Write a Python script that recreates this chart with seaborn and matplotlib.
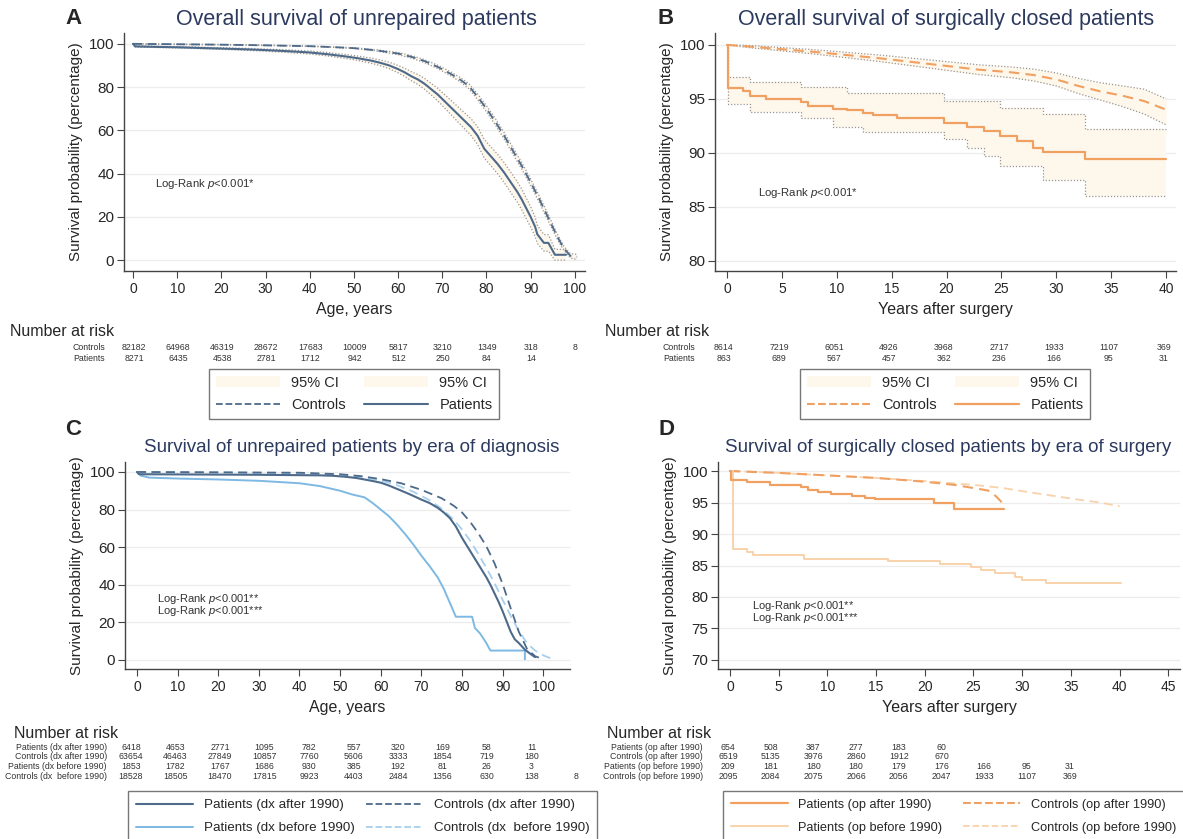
import numpy as np
import pandas as pd
import matplotlib
matplotlib.use("Agg")
import matplotlib.pyplot as plt
import seaborn as sns
from matplotlib.lines import Line2D
from matplotlib.patches import Patch

# ---------------- data ----------------
# Panel A: unrepaired patients vs controls (age)
a_pat_x = [0, 0.5, 5, 10, 15, 20, 25, 30, 35, 40, 44, 48, 51, 54, 56, 58, 60, 61.5, 63, 64.5, 66, 67.5, 69, 70.5,
           72, 73.5, 75, 76.5, 78, 79.5, 81, 82.5, 84, 85.5, 87, 88, 89, 90, 91, 91.5, 93, 94, 95.5, 98]
a_pat_y = [100, 98.8, 98.6, 98.4, 98.1, 97.8, 97.5, 97.1, 96.6, 96.0, 95.2, 94.2, 93.3, 92.2, 91.2, 90.0, 88.3, 86.8,
           85.0, 83.5, 81.5, 79.0, 76.5, 73.5, 70.5, 67.5, 64.5, 61.5, 57.5, 51.5, 48.0, 44.5, 40.5, 36.0, 31.5, 28.0,
           24.0, 20.0, 15.5, 12.0, 8.0, 8.0, 2.5, 2.5]
a_pat_hi = [100, 99.1, 98.9, 98.7, 98.45, 98.2, 97.95, 97.6, 97.2, 96.7, 96.0, 95.1, 94.3, 93.4, 92.5, 91.5, 90.0, 88.7,
            87.1, 85.8, 84.0, 81.7, 79.4, 76.6, 73.8, 71.0, 68.2, 65.4, 61.6, 55.8, 52.4, 49.0, 45.1, 40.7, 36.3, 32.8,
            28.8, 24.7, 20.0, 16.2, 11.8, 11.8, 5.0, 5.0]
a_pat_lo = [100, 98.5, 98.3, 98.1, 97.75, 97.4, 97.05, 96.6, 96.0, 95.3, 94.4, 93.3, 92.3, 91.0, 89.9, 88.5, 86.6, 84.9,
            82.9, 81.2, 79.0, 76.3, 73.6, 70.4, 67.2, 64.0, 60.8, 57.6, 53.4, 47.2, 43.6, 40.0, 35.9, 31.3, 26.7, 23.2,
            19.2, 15.3, 11.0, 7.8, 4.2, 4.2, 0.0, 0.0]
a_ctl_x = [0, 10, 20, 30, 40, 45, 50, 55, 60, 63, 66, 69, 72, 74, 76, 78, 80, 82, 84, 86, 88, 90, 92, 94, 96, 97.5, 99, 100.5]
a_ctl_y = [100, 99.8, 99.6, 99.3, 98.9, 98.5, 98.0, 97.0, 95.5, 94.0, 92.0, 89.3, 86.0, 83.5, 80.5, 75.5, 70.0, 64.0,
           57.5, 50.5, 43.5, 36.0, 28.0, 19.5, 11.0, 5.5, 2.0, 1.5]
a_ctl_lo = [100, 99.7, 99.5, 99.2, 98.8, 98.4, 97.8, 96.7, 95.0, 93.4, 91.3, 88.5, 85.1, 82.5, 79.3, 74.2, 68.6, 62.5,
            56.0, 49.0, 42.0, 34.5, 26.5, 18.0, 9.8, 4.5, 1.0, 0.3]
a_ctl_hi = [100, 99.9, 99.7, 99.4, 99.0, 98.6, 98.2, 97.3, 96.0, 94.6, 92.7, 90.1, 86.9, 84.5, 81.7, 76.8, 71.4, 65.5,
            59.0, 52.0, 45.0, 37.5, 29.5, 21.0, 12.2, 6.5, 3.0, 2.7]
a_risk_ctl = [82182, 64968, 46319, 28672, 17683, 10009, 5817, 3210, 1349, 318, 8]
a_risk_pat = [8271, 6435, 4538, 2781, 1712, 942, 512, 250, 84, 14]

# Panel B: surgically closed patients vs controls (years after surgery)
b_pat_x = [0, 0.1, 1.5, 2.1, 3.6, 6.7, 7.4, 9.7, 10.9, 12.4, 13.3, 15.5, 19.8, 21.9, 23.4, 24.9, 26.4, 27.9, 28.8, 32.6, 40]
b_pat_y = [100, 96.0, 95.7, 95.3, 95.0, 94.7, 94.3, 94.1, 94.0, 93.7, 93.5, 93.2, 92.8, 92.4, 92.0, 91.6, 91.1, 90.5,
           90.1, 89.4, 89.4]
b_pat_hi = [100, 97.0, 97.0, 96.6, 96.6, 96.1, 96.1, 96.1, 95.5, 95.5, 95.5, 95.5, 94.8, 94.8, 94.8, 94.2, 94.2, 94.2,
            93.6, 92.2, 92.2]
b_pat_lo = [100, 94.5, 94.5, 93.8, 93.8, 93.2, 93.2, 92.4, 92.4, 91.9, 91.9, 91.9, 91.3, 90.5, 89.7, 88.8, 88.8, 88.8,
            87.5, 86.0, 86.0]
b_ctl_x = [0, 2, 5, 8, 11, 14, 17, 20, 23, 26, 28, 30, 32, 34, 36, 38, 40]
b_ctl_y = [100, 99.85, 99.6, 99.35, 99.05, 98.75, 98.4, 98.05, 97.7, 97.45, 97.2, 96.8, 96.2, 95.7, 95.3, 94.8, 94.0]
b_ctl_lo = [100, 99.75, 99.45, 99.15, 98.8, 98.45, 98.05, 97.65, 97.25, 96.95, 96.65, 96.2, 95.5, 94.9, 94.3, 93.6, 92.6]
b_ctl_hi = [100, 99.95, 99.75, 99.55, 99.3, 99.05, 98.75, 98.45, 98.15, 97.95, 97.75, 97.4, 96.9, 96.5, 96.2, 95.9, 95.0]
b_risk_ctl = [8614, 7219, 6051, 4926, 3968, 2717, 1933, 1107, 369]
b_risk_pat = [863, 689, 567, 457, 362, 236, 166, 95, 31]

# Panel C: unrepaired by era of diagnosis
c_pa_x = [0, 0.5, 10, 20, 30, 40, 45, 48, 51, 54, 56, 58, 60, 62, 64, 66, 68, 70, 72, 74, 75.5, 77, 78.5, 80, 81, 82,
          83, 84, 85, 86, 87, 88, 89, 90, 91, 92, 93, 94, 95.5, 97, 98]
c_pa_y = [100, 98.8, 98.7, 98.6, 98.5, 98.3, 98.2, 98.0, 97.5, 96.8, 96.0, 95.2, 94.3, 92.8, 91.0, 89.2, 87.3, 85.3,
          83.5, 81.0, 78.5, 75.5, 71.0, 65.0, 61.5, 58.0, 54.5, 51.0, 47.5, 44.0, 40.0, 35.5, 31.0, 26.0, 20.5, 15.0,
          11.0, 9.0, 5.5, 3.0, 1.5]
c_ca_x = [0, 40, 50, 55, 60, 65, 70, 75, 78, 80, 82, 84, 86, 88, 90, 92, 94, 96, 98, 99.5]
c_ca_y = [100, 99.6, 98.8, 97.8, 96.2, 94.0, 90.5, 86.0, 82.0, 78.5, 73.5, 67.5, 60.5, 51.5, 40.5, 27.5, 15.0, 6.0, 2.0, 0.8]
c_pb_x = [0, 1, 3, 10, 20, 30, 40, 45, 50, 53, 56, 58, 60, 62, 64, 66, 68, 70, 72, 74, 75.5, 77, 78.5, 82.5, 83.2,
          84.5, 86, 87, 95.5, 95.5]
c_pb_y = [100, 98.0, 97.0, 96.5, 96.0, 95.3, 94.0, 92.5, 90.0, 88.0, 86.5, 83.5, 80.0, 76.5, 72.0, 67.0, 61.5, 55.5,
          50.0, 44.0, 38.0, 30.5, 23.0, 23.0, 17.0, 14.0, 9.0, 5.0, 5.0, 0.3]
c_cb_x = [0, 20, 40, 50, 55, 60, 64, 68, 72, 75, 78, 80, 82, 84, 86, 88, 90, 92, 94, 96, 98, 100, 102.5]
c_cb_y = [100, 99.8, 99.3, 98.5, 97.5, 95.5, 93.0, 89.5, 85.0, 80.5, 74.5, 69.5, 63.5, 56.5, 49.0, 41.0, 32.0, 23.5,
          15.5, 9.0, 5.0, 2.5, 0.3]
c_risk_pa = [6418, 4653, 2771, 1095, 782, 557, 320, 169, 58, 11]
c_risk_ca = [63654, 46463, 27849, 10857, 7760, 5606, 3333, 1854, 719, 180]
c_risk_pb = [1853, 1782, 1767, 1686, 930, 385, 192, 81, 26, 3]
c_risk_cb = [18528, 18505, 18470, 17815, 9923, 4403, 2484, 1356, 630, 138, 8]

# Panel D: surgically closed by era of surgery
d_pa_x = [0, 0.1, 1.7, 4.1, 7.3, 8.0, 9.0, 10.4, 12.5, 13.9, 14.9, 20.9, 23.0, 28.1]
d_pa_y = [100, 98.6, 98.2, 97.8, 97.4, 97.0, 96.6, 96.3, 96.0, 95.7, 95.5, 94.9, 94.0, 94.0]
d_ca_x = [0, 5, 10, 15, 20, 23, 25, 26.5, 27.3, 27.8, 28.1]
d_ca_y = [100, 99.7, 99.3, 98.9, 98.3, 97.8, 97.3, 96.9, 96.0, 95.2, 94.7]
d_pb_x = [0, 0.3, 1.7, 2.4, 7.6, 16.2, 21.6, 24.7, 25.8, 27.2, 29.3, 30.0, 32.4, 40.1]
d_pb_y = [100, 87.6, 87.2, 86.6, 86.1, 85.65, 85.2, 84.7, 84.3, 83.8, 83.2, 82.7, 82.2, 82.2]
d_cb_x = [0, 5, 10, 15, 20, 25, 28, 30, 33, 36, 38, 40]
d_cb_y = [100, 99.7, 99.3, 98.9, 98.4, 97.8, 97.3, 96.8, 96.1, 95.4, 95.0, 94.4]
d_risk_pa = [654, 508, 387, 277, 183, 60]
d_risk_ca = [6519, 5135, 3976, 2860, 1912, 670]
d_risk_pb = [209, 181, 180, 180, 179, 176, 166, 95, 31]
d_risk_cb = [2095, 2084, 2075, 2066, 2056, 2047, 1933, 1107, 369]

# ---------------- style ----------------
sns.set_style("ticks")
plt.rcParams['font.family'] = ['Liberation Sans', 'DejaVu Sans']
plt.rcParams['mathtext.fontset'] = 'custom'
plt.rcParams['mathtext.rm'] = 'Liberation Sans'
plt.rcParams['mathtext.it'] = 'Liberation Sans:italic'

NAVY = "#4d6a8b"
LBLUE = "#7db9e2"
LBLUE2 = "#a6d0ec"
ORANGE = "#f0a061"
LORANGE = "#f8d2aa"
CIFILL = "#fef7ec"
CIGREY = "#9a948e"
TITLE = "#2c3a5f"
DASH = (0, (5, 3))

W, H = 1183, 839
fig = plt.figure(figsize=(W / 100, H / 100), dpi=100)


def rect(l, t, r, b):
    return [l / W, 1 - b / H, (r - l) / W, (b - t) / H]


def km(ax, x, y, color, ls='-', lw=1.4, steps=True):
    df = pd.DataFrame({'x': x, 'y': y})
    sns.lineplot(data=df, x='x', y='y', ax=ax, color=color, linestyle=ls, linewidth=lw,
                 estimator=None, sort=False, errorbar=None,
                 drawstyle='steps-post' if steps else 'default')


def band(ax, x, lo, hi, steps=True):
    ax.fill_between(x, lo, hi, step='post' if steps else None, color=CIFILL, lw=0, zorder=1)
    km(ax, x, lo, CIGREY, ls=(0, (1, 1.5)), lw=0.9, steps=steps)
    km(ax, x, hi, CIGREY, ls=(0, (1, 1.5)), lw=0.9, steps=steps)


def setup(ax, xlim, ylim, xticks, yticks, xlabel):
    ax.set_xlim(xlim)
    ax.set_ylim(ylim)
    ax.set_xticks(xticks)
    ax.set_yticks(yticks)
    ax.yaxis.grid(True, color='#ececec', lw=0.9)
    ax.xaxis.grid(False)
    ax.set_axisbelow(True)
    sns.despine(ax=ax)
    for s in ['left', 'bottom']:
        ax.spines[s].set_color('#444444')
        ax.spines[s].set_linewidth(1.0)
    ax.tick_params(axis='x', labelsize=10, length=5, color='#444444', pad=3)
    ax.tick_params(axis='y', labelsize=11, length=5, color='#444444', pad=2)
    ax.set_xlabel(xlabel, fontsize=11.5, labelpad=4)
    ax.set_ylabel('Survival probability (percentage)', fontsize=11, labelpad=4)


def fig_text(x, y, s, **kw):
    fig.text(x / W, 1 - y / H, s, **kw)


def risk_table(head_xy, label_right, labels, rows, x0, dx, y0, dy):
    fig_text(head_xy[0], head_xy[1], 'Number at risk', fontsize=11.5, va='center', ha='left')
    for i, (lab, vals) in enumerate(zip(labels, rows)):
        yy = y0 + i * dy
        fig_text(label_right, yy, lab, fontsize=6.3, ha='right', va='center', color='#333333')
        for j, v in enumerate(vals):
            fig_text(x0 + j * dx, yy, str(v), fontsize=6.3, ha='center', va='center', color='#333333')


def legend(handles, labels, xy, fs=10.5, ls=0.55, bp=0.45, **kw):
    leg = fig.legend(handles, labels, ncol=2, loc='upper left',
                     bbox_to_anchor=(xy[0] / W, 1 - xy[1] / H), frameon=True, fancybox=False,
                     edgecolor='#555555', fontsize=fs, borderpad=bp, labelspacing=ls,
                     borderaxespad=0.0, handletextpad=0.8, **kw)
    leg.get_frame().set_linewidth(1.0)
    return leg


logrank1 = r'Log-Rank $\mathit{p}$<0.001*'
logrank2 = r'Log-Rank $\mathit{p}$<0.001**'
logrank3 = r'Log-Rank $\mathit{p}$<0.001***'

# ---------------- Panel A ----------------
axA = fig.add_axes(rect(124, 33, 585, 271))
band(axA, a_pat_x, a_pat_lo, a_pat_hi, steps=False)
band(axA, a_ctl_x, a_ctl_lo, a_ctl_hi, steps=False)
km(axA, a_ctl_x, a_ctl_y, NAVY, ls=DASH, lw=1.3, steps=False)
km(axA, a_pat_x, a_pat_y, NAVY, lw=1.5, steps=False)
setup(axA, (-2.04, 102.3), (-5.0, 105.0), np.arange(0, 101, 10), np.arange(0, 101, 20), 'Age, years')
axA.text(5, 35, logrank1, fontsize=8.2, color='#333333', va='center')

# ---------------- Panel B ----------------
axB = fig.add_axes(rect(715, 33, 1176, 271))
band(axB, b_pat_x, b_pat_lo, b_pat_hi)
band(axB, b_ctl_x, b_ctl_lo, b_ctl_hi, steps=False)
km(axB, b_ctl_x, b_ctl_y, ORANGE, ls=DASH, lw=1.5, steps=False)
km(axB, b_pat_x, b_pat_y, ORANGE, lw=1.6)
setup(axB, (-1.09, 40.9), (79.07, 101.1), np.arange(0, 41, 5), np.arange(80, 101, 5), 'Years after surgery')
axB.text(2.8, 86.3, logrank1, fontsize=8.2, color='#333333', va='center')

# ---------------- Panel C ----------------
axC = fig.add_axes(rect(125, 462, 570, 669))
km(axC, c_cb_x, c_cb_y, LBLUE2, ls=DASH, lw=1.3, steps=False)
km(axC, c_ca_x, c_ca_y, NAVY, ls=DASH, lw=1.3, steps=False)
km(axC, c_pb_x, c_pb_y, LBLUE, lw=1.4, steps=False)
km(axC, c_pa_x, c_pa_y, NAVY, lw=1.5, steps=False)
setup(axC, (-2.96, 106.6), (-4.8, 105.3), np.arange(0, 101, 10), np.arange(0, 101, 20), 'Age, years')
axC.text(5, 32.5, logrank2, fontsize=8, color='#333333', va='center')
axC.text(5, 26.0, logrank3, fontsize=8, color='#333333', va='center')

# ---------------- Panel D ----------------
axD = fig.add_axes(rect(718, 462, 1180, 669))
km(axD, d_cb_x, d_cb_y, LORANGE, ls=DASH, lw=1.3, steps=False)
km(axD, d_ca_x, d_ca_y, ORANGE, ls=DASH, lw=1.5, steps=False)
km(axD, d_pb_x, d_pb_y, LORANGE, lw=1.4)
km(axD, d_pa_x, d_pa_y, ORANGE, lw=1.6)
setup(axD, (-1.23, 46.2), (68.57, 101.43), np.arange(0, 46, 5), np.arange(70, 101, 5), 'Years after surgery')
axD.text(2.3, 78.6, logrank2, fontsize=8, color='#333333', va='center')
axD.text(2.3, 76.6, logrank3, fontsize=8, color='#333333', va='center')

# ---------------- titles & letters ----------------
fig_text(356, 20, 'Overall survival of unrepaired patients', fontsize=15.5, color=TITLE, ha='center', va='center')
fig_text(946, 20, 'Overall survival of surgically closed patients', fontsize=15.5, color=TITLE, ha='center', va='center')
fig_text(352, 448, 'Survival of unrepaired patients by era of diagnosis', fontsize=13.5, color=TITLE, ha='center', va='center')
fig_text(948, 448, 'Survival of surgically closed patients by era of surgery', fontsize=13.5, color=TITLE, ha='center', va='center')
for letter, (lx, ly) in zip('ABCD', [(73, 18), (666, 18), (73, 429), (666, 429)]):
    fig_text(lx, ly, letter, fontsize=16, fontweight='bold', ha='center', va='center')

# ---------------- number at risk ----------------
risk_table((10, 331), 105, ['Controls', 'Patients'], [a_risk_ctl, a_risk_pat], 134, 44.1, 348, 10.5)
risk_table((605, 331), 695, ['Controls', 'Patients'], [b_risk_ctl, b_risk_pat], 724, 55.0, 348, 10.5)
risk_table((14, 734), 107, ['Patients (dx after 1990)', 'Controls (dx after 1990)', 'Patients (dx before 1990)',
                            'Controls (dx  before 1990)'], [c_risk_pa, c_risk_ca, c_risk_pb, c_risk_cb],
           131, 44.5, 747, 9.8)
risk_table((607, 734), 703, ['Patients (op after 1990)', 'Controls (op after 1990)', 'Patients (op before 1990)',
                             'Controls (op before 1990)'], [d_risk_pa, d_risk_ca, d_risk_pb, d_risk_cb],
           728, 42.7, 747, 9.8)

# ---------------- legends ----------------
ci = Patch(facecolor=CIFILL, edgecolor='none')
legend([ci, Line2D([], [], color=NAVY, ls='--', lw=1.3), ci, Line2D([], [], color=NAVY, lw=1.5)],
       ['95% CI', 'Controls', '95% CI', 'Patients'], (209, 369), fs=10.5, ls=0.6,
       handlelength=4.4, columnspacing=1.2)
legend([ci, Line2D([], [], color=ORANGE, ls='--', lw=1.5), ci, Line2D([], [], color=ORANGE, lw=1.6)],
       ['95% CI', 'Controls', '95% CI', 'Patients'], (800, 369), fs=10.5, ls=0.6,
       handlelength=4.4, columnspacing=1.2)
legend([Line2D([], [], color=NAVY, lw=1.5), Line2D([], [], color=LBLUE, lw=1.4),
        Line2D([], [], color=NAVY, ls='--', lw=1.3), Line2D([], [], color=LBLUE2, ls='--', lw=1.3)],
       ['Patients (dx after 1990)', 'Patients (dx before 1990)', 'Controls (dx after 1990)',
        'Controls (dx  before 1990)'], (128, 791), fs=9.6, ls=0.8, bp=0.6,
       handlelength=4.3, columnspacing=0.8)
legend([Line2D([], [], color=ORANGE, lw=1.6), Line2D([], [], color=LORANGE, lw=1.4),
        Line2D([], [], color=ORANGE, ls='--', lw=1.5), Line2D([], [], color=LORANGE, ls='--', lw=1.3)],
       ['Patients (op after 1990)', 'Patients (op before 1990)', 'Controls (op after 1990)',
        'Controls (op before 1990)'], (723, 791), fs=9.2, ls=0.85, bp=0.6,
       handlelength=4.5, columnspacing=1.6)

fig.savefig('out.png', dpi=100)
